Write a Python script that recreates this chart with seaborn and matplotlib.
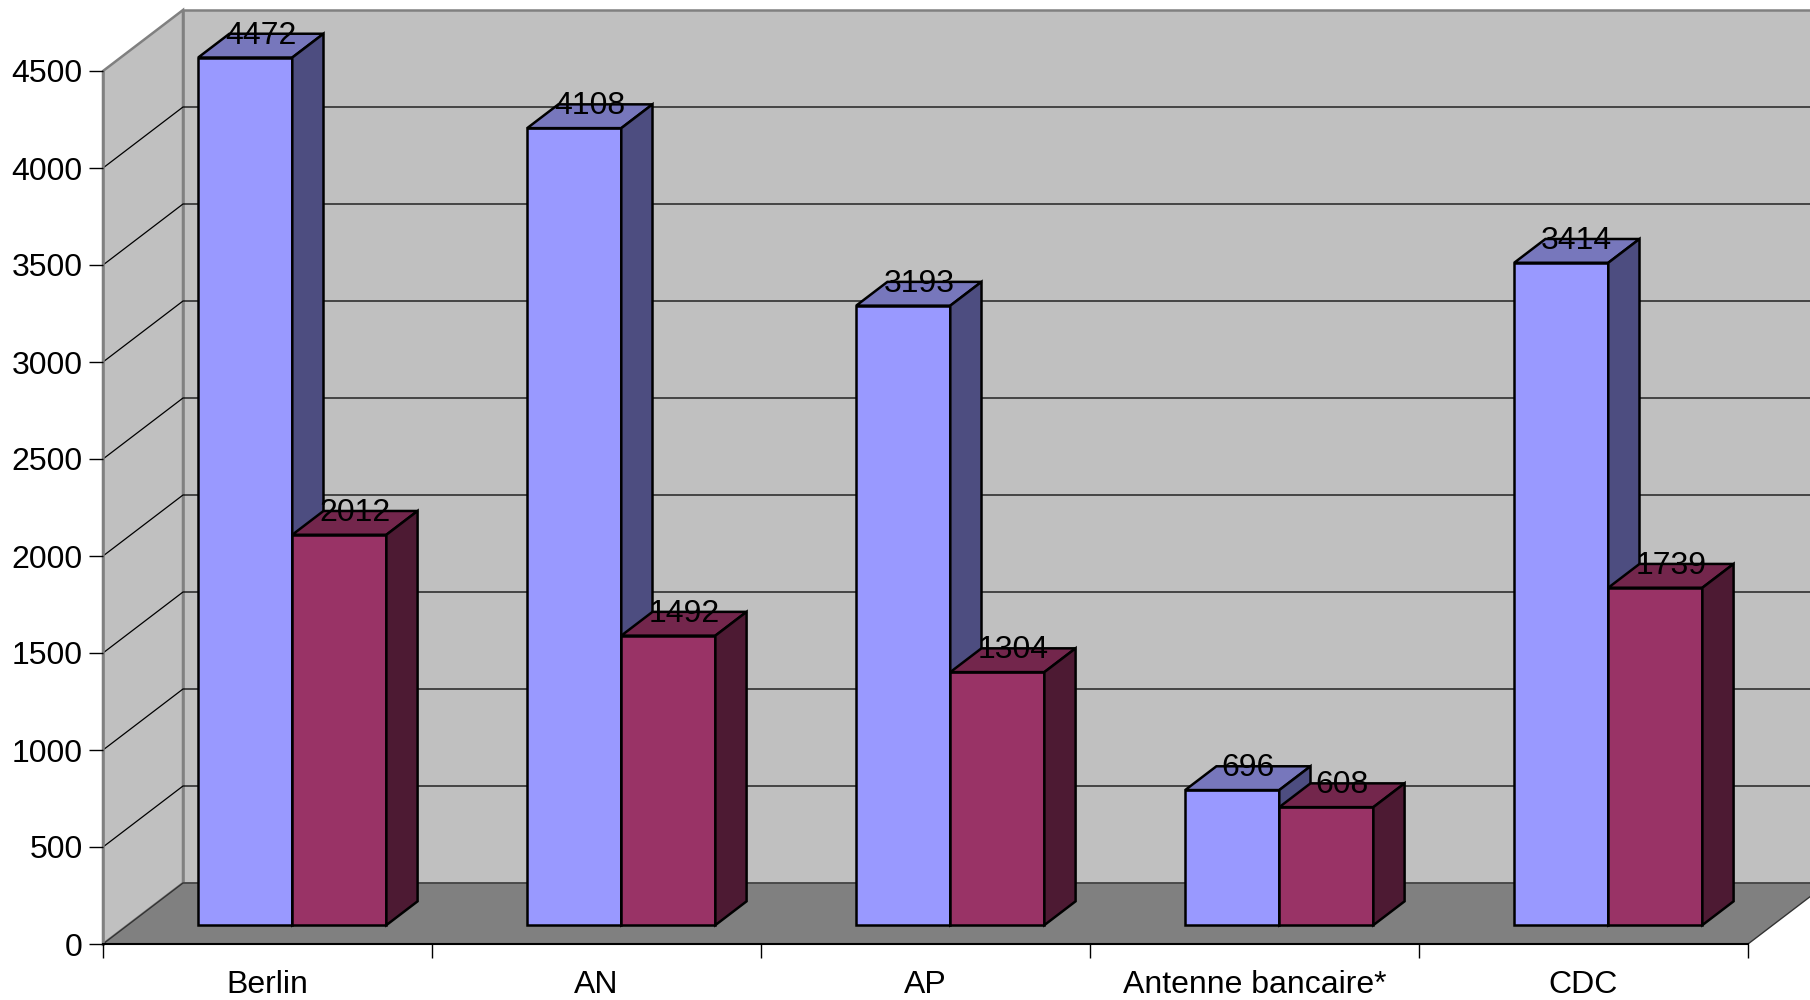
import numpy as np
import pandas as pd
import matplotlib
matplotlib.use('Agg')
import matplotlib.pyplot as plt
from matplotlib.patches import Polygon
from matplotlib.lines import Line2D
from matplotlib.transforms import ScaledTranslation, IdentityTransform
import seaborn as sns

# Data
sites = ['Berlin', 'AN', 'AP', 'Antenne bancaire*', 'CDC']
serie_1 = [4472, 4108, 3193, 696, 3414]
serie_2 = [2012, 1492, 1304, 608, 1739]
y_ticks = list(range(0, 4501, 500))

front_colors = ['#9999FF', '#993366']
top_colors = ['#7777BC', '#73264C']
side_colors = ['#4D4D80', '#4D1A33']

df = pd.DataFrame({
    'Site': sites * 2,
    'Valeur': serie_1 + serie_2,
    'Serie': ['Série 1'] * len(sites) + ['Série 2'] * len(sites),
})

sns.set_style('white')
plt.rcParams['font.family'] = ['Liberation Sans', 'DejaVu Sans']
plt.rcParams['text.color'] = 'black'
plt.rcParams['xtick.color'] = 'black'
plt.rcParams['ytick.color'] = 'black'

FS = 23

fig = plt.figure(figsize=(18.1, 10), dpi=100)
ax = fig.add_axes([103 / 1810, 0.056, 1645 / 1810, 0.873])
ax.set_facecolor('none')

sns.barplot(data=df, x='Site', y='Valeur', hue='Serie', palette=front_colors,
            width=0.572, saturation=1, edgecolor='black', linewidth=1.8,
            legend=False, ax=ax)
ax.set_xlim(-0.5, 4.5)
ax.set_ylim(0, 4500)
ax.set_autoscale_on(False)
ax.set_xlabel('')
ax.set_ylabel('')

# pseudo-3D depth (pixels for full depth)
DX, DY = 80, 61
d0, d1 = 0.31, 0.70


def off(d):
    return ScaledTranslation(d * DX / 100, d * DY / 100, fig.dpi_scale_trans)


def P(x, y, d):
    return ax.transData.transform((x, y)) + np.array([d * DX, d * DY]) * fig.dpi / 100


def poly(pts, fc, ec, lw, z):
    pg = Polygon(np.array(pts), closed=True, facecolor=fc, edgecolor=ec, linewidth=lw,
                 transform=IdentityTransform(), clip_on=False, zorder=z, joinstyle='miter')
    ax.add_patch(pg)


bars = list(ax.patches)

# walls and floor
poly([P(-0.5, 0, 1), P(-0.5, 4500, 1), P(4.7, 4500, 1), P(4.7, 0, 1)], '#C0C0C0', '#808080', 1.8, 0.1)
poly([P(-0.5, 0, 0), P(-0.5, 4500, 0), P(-0.5, 4500, 1), P(-0.5, 0, 1)], '#C0C0C0', '#808080', 1.8, 0.2)
for t in y_ticks[1:-1]:
    pts = np.array([P(-0.5, t, 0), P(-0.5, t, 1), P(4.7, t, 1)])
    ax.add_line(Line2D(pts[:, 0], pts[:, 1], color='black', linewidth=0.9,
                       transform=IdentityTransform(), clip_on=False, zorder=0.3))
poly([P(-0.5, 0, 0), P(4.5, 0, 0), P(4.5, 0, 1), P(-0.5, 0, 1)], '#808080', '#333333', 1.0, 0.4)

# bars: front face from seaborn, top and side faces added
for i, p in enumerate(bars):
    s = 0 if i < len(sites) else 1
    x, w, h = p.get_x(), p.get_width(), p.get_height()
    z = 3 + s
    p.set_transform(ax.transData + off(d0))
    p.set_clip_on(False)
    p.set_zorder(z)
    poly([P(x, h, d0), P(x + w, h, d0), P(x + w, h, d1), P(x, h, d1)], top_colors[s], 'black', 1.8, z)
    poly([P(x + w, 0, d0), P(x + w, h, d0), P(x + w, h, d1), P(x + w, 0, d1)], side_colors[s], 'black', 1.8, z)
    ax.text(x + w / 2, h, f'{int(round(h))}', fontsize=FS, ha='center', va='baseline', color='black',
            transform=ax.transData + off((d0 + d1) / 2) + ScaledTranslation(0, 0.02, fig.dpi_scale_trans),
            zorder=10, clip_on=False)

# axes
for side in ['top', 'right']:
    ax.spines[side].set_visible(False)
ax.spines['left'].set_color('#808080')
ax.spines['left'].set_linewidth(1.8)
ax.spines['left'].set_zorder(0.5)
ax.spines['bottom'].set_color('black')
ax.spines['bottom'].set_linewidth(1.5)
ax.spines['bottom'].set_zorder(0.5)

ax.set_yticks(y_ticks)
ax.set_yticklabels([str(t) for t in y_ticks])
ax.tick_params(axis='y', left=True, length=10, width=1, color='black', pad=4.5,
               labelsize=FS, labelcolor='black')

ax.set_xticks(np.arange(-0.5, 5, 1))
ax.set_xticklabels([])
ax.set_xticks(np.arange(len(sites)), minor=True)
ax.set_xticklabels(sites, minor=True)
ax.tick_params(axis='x', which='major', bottom=True, length=10, width=1, color='black')
ax.tick_params(axis='x', which='minor', bottom=True, length=0, pad=18.5,
               labelsize=FS, labelcolor='black')

plt.savefig('out.png', dpi=100)
